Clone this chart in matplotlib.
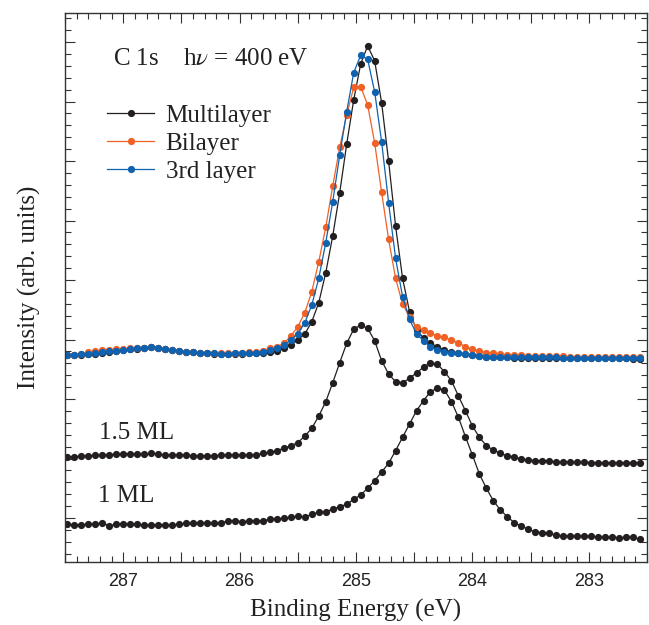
import numpy as np
import matplotlib
matplotlib.use("Agg")
import matplotlib.pyplot as plt
from matplotlib.ticker import MultipleLocator, FuncFormatter

# binding energy grid (eV)
energy_start = 287.48
energy_step = 0.06
energy = energy_start - energy_step * np.arange(83)

multilayer = [
    207.0, 207.0, 207.5, 207.7, 208.5, 209.0, 210.5, 211.0, 211.7, 212.7,
    213.3, 214.0, 215.0, 214.3, 212.7, 211.7, 211.0, 210.0, 209.7, 209.0,
    208.7, 208.5, 208.3, 208.3, 208.5, 208.5, 208.7, 209.0, 209.0, 210.0,
    211.0, 213.7, 217.0, 222.0, 228.0, 240.3, 259.3, 289.3, 326.0, 369.3,
    418.0, 462.0, 498.0, 516.0, 501.3, 459.3, 401.0, 336.0, 283.7, 250.3,
    232.0, 224.0, 218.7, 215.3, 212.0, 210.0, 209.0, 208.0, 207.0, 206.0,
    205.3, 205.0, 204.7, 204.7, 204.5, 204.5, 204.3, 204.3, 204.3, 204.0,
    204.0, 204.0, 204.0, 203.8, 203.8, 203.8, 203.7, 203.7, 203.7, 203.7,
    203.7, 203.5, 203.5,
]
bilayer = [
    207.3, 207.3, 208.0, 210.0, 211.0, 212.0, 212.5, 213.0, 213.3, 213.7,
    214.0, 214.3, 215.0, 214.3, 212.7, 211.7, 211.0, 210.0, 209.7, 209.0,
    209.0, 208.7, 208.7, 209.0, 209.0, 209.3, 209.7, 210.0, 211.5, 214.0,
    215.3, 218.7, 226.0, 235.3, 249.3, 270.3, 300.3, 334.7, 376.0, 414.7,
    447.0, 474.7, 475.3, 457.0, 419.3, 369.7, 322.7, 283.7, 258.0, 244.7,
    235.0, 232.0, 228.7, 226.0, 224.7, 222.0, 219.3, 215.3, 212.7, 211.3,
    209.3, 208.7, 207.7, 207.3, 207.0, 206.7, 206.3, 206.0, 206.0, 205.7,
    205.7, 205.7, 205.5, 205.5, 205.3, 205.3, 205.3, 205.0, 205.0, 205.0,
    205.0, 205.0, 205.0,
]
third_layer = [
    207.3, 207.3, 207.7, 208.0, 209.0, 210.0, 211.0, 211.3, 212.0, 213.0,
    213.7, 214.3, 215.3, 214.3, 212.7, 211.7, 211.0, 210.0, 209.7, 209.0,
    208.7, 208.7, 208.3, 208.3, 208.7, 208.7, 209.0, 209.3, 210.3, 212.0,
    213.7, 217.0, 222.0, 228.0, 239.3, 257.0, 283.7, 319.3, 360.3, 407.0,
    450.3, 489.3, 506.7, 502.7, 470.3, 420.3, 359.3, 303.7, 265.3, 242.7,
    228.0, 221.3, 215.3, 212.0, 210.3, 209.3, 208.7, 208.0, 207.0, 206.3,
    205.3, 205.3, 204.7, 204.7, 204.7, 204.7, 204.7, 204.7, 204.7, 204.7,
    204.7, 204.0, 204.0, 204.0, 204.0, 204.0, 204.0, 204.0, 204.0, 204.0,
    204.0, 204.0, 204.0,
]
ml_1p5 = [
    105.3, 105.3, 106.0, 106.3, 106.7, 106.7, 107.3, 108.0, 108.0, 108.0,
    108.3, 107.7, 108.7, 108.0, 106.7, 107.0, 107.0, 106.7, 106.3, 106.3,
    106.3, 106.3, 106.7, 106.7, 106.7, 106.7, 107.0, 107.0, 108.7, 109.7,
    111.3, 113.7, 116.3, 119.3, 126.0, 133.7, 146.0, 160.3, 179.3, 199.3,
    218.7, 232.7, 237.0, 233.7, 221.3, 201.3, 188.0, 180.3, 179.3, 183.7,
    189.3, 194.7, 199.3, 197.7, 190.3, 181.3, 166.0, 151.3, 136.0, 124.7,
    116.3, 112.0, 108.7, 106.0, 105.3, 102.7, 102.0, 101.3, 101.3, 101.0,
    100.3, 99.7, 99.7, 99.7, 99.7, 99.3, 99.3, 99.3, 99.3, 99.3,
    99.3, 99.3, 99.3,
]
ml_1 = [
    38.0, 37.0, 37.0, 37.7, 37.7, 39.3, 36.0, 38.0, 38.0, 37.7,
    37.7, 37.0, 37.0, 37.0, 37.0, 36.7, 38.0, 38.7, 38.7, 39.3,
    38.7, 38.7, 39.3, 41.0, 41.3, 40.3, 41.0, 41.3, 41.3, 42.7,
    43.3, 43.7, 44.7, 46.0, 44.7, 47.7, 49.7, 50.3, 52.7, 55.3,
    57.7, 62.7, 67.0, 73.7, 81.3, 90.0, 98.7, 111.3, 124.7, 138.0,
    151.3, 161.3, 170.3, 173.7, 172.0, 160.3, 144.7, 125.3, 107.0, 88.0,
    73.7, 61.3, 52.0, 45.3, 39.3, 36.0, 32.7, 30.3, 29.3, 28.7,
    27.0, 26.0, 26.0, 26.0, 26.0, 26.0, 24.7, 24.7, 24.7, 24.3,
    24.7, 24.7, 22.7,
]

black = '#231f20'
orange = '#ef6125'
blue = '#0e62b0'

plt.rcParams['mathtext.fontset'] = 'stix'
serif = 'Liberation Serif'

fig = plt.figure(figsize=(6.49, 6.25), dpi=100)
ax = fig.add_axes([0.1002, 0.1008, 0.8967, 0.8784])

style = dict(marker='o', ms=5.2, mew=0, lw=0.9)
ax.plot(energy, multilayer, color=black, label='Multilayer', **style)
ax.plot(energy, bilayer, color=orange, label='Bilayer', **style)
ax.plot(energy, third_layer, color=blue, label='3rd layer', **style)
ax.plot(energy, ml_1p5, color=black, **style)
ax.plot(energy, ml_1, color=black, **style)

ax.set_xlim(287.5, 282.5)
ax.set_ylim(0, 549)

# ticks on all four sides, pointing in
ax.xaxis.set_major_locator(MultipleLocator(0.5))
ax.xaxis.set_minor_locator(MultipleLocator(0.1))
ax.xaxis.set_major_formatter(FuncFormatter(
    lambda v, p: '%d' % round(v) if abs(v - round(v)) < 1e-6 else ''))
ax.yaxis.set_major_locator(MultipleLocator(59.5, offset=44))
ax.yaxis.set_minor_locator(MultipleLocator(11.9, offset=8.3))
ax.yaxis.set_major_formatter(FuncFormatter(lambda v, p: ''))
ax.tick_params(which='both', direction='in', top=True, right=True, width=0.8,
               color='#333333')
ax.tick_params(which='major', length=7)
ax.tick_params(which='minor', length=4)
ax.tick_params(axis='x', labelsize=13, pad=8, labelcolor='#222222')
for lab in ax.get_xticklabels():
    lab.set_fontfamily('Liberation Sans')
for s in ax.spines.values():
    s.set_linewidth(1.0)
    s.set_color('#333333')

ax.set_xlabel('Binding Energy (eV)', family=serif, fontsize=18, labelpad=6,
              color='#222222')
ax.set_ylabel('Intensity (arb. units)', family=serif, fontsize=18, labelpad=14,
              color='#222222')

ax.text(0.0825, 0.905, 'C 1s    h$\\nu$ = 400 eV', transform=ax.transAxes,
        family=serif, fontsize=18, va='baseline', color='#222222')
ax.text(0.058, 0.2235, '1.5 ML', transform=ax.transAxes,
        family=serif, fontsize=18, va='baseline', color='#222222')
ax.text(0.057, 0.1098, '1 ML', transform=ax.transAxes,
        family=serif, fontsize=18, va='baseline', color='#222222')

leg = ax.legend(loc='upper left', bbox_to_anchor=(0.072, 0.834), frameon=False,
                prop={'family': serif, 'size': 18}, handlelength=1.9,
                handletextpad=0.45, labelspacing=0.22, borderpad=0,
                borderaxespad=0, numpoints=1)
for t in leg.get_texts():
    t.set_color('#222222')

fig.savefig('out.png', dpi=100)
